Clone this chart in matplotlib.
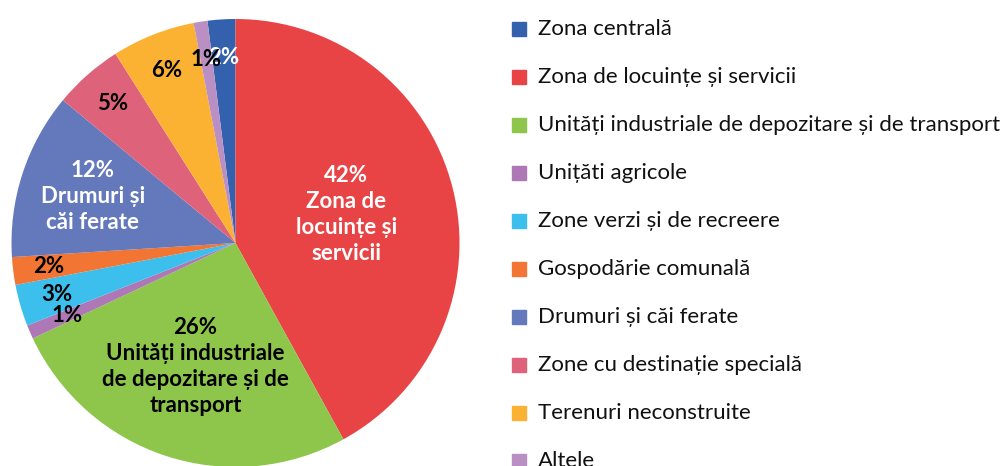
import matplotlib.pyplot as plt
from matplotlib.patches import Rectangle
import numpy as np

plt.rcParams['font.family'] = ['Lato', 'DejaVu Sans']

# data, in legend order
names = ["Zona centrală", "Zona de locuințe și servicii",
         "Unități industriale de depozitare și de transport", "Unițăti agricole",
         "Zone verzi și de recreere", "Gospodărie comunală", "Drumuri și căi ferate",
         "Zone cu destinație specială", "Terenuri neconstruite", "Altele"]
values = [2, 42, 26, 1, 3, 2, 12, 5, 6, 1]
# names shown inside the big slices
inner_names = {1: "Zona de\nlocuințe și\nservicii",
               2: "Unități industriale\nde depozitare și de\ntransport",
               6: "Drumuri și\ncăi ferate"}

colors = ["#3461AD", "#E84446", "#8DC64B", "#AD78B5", "#3DBFEE",
          "#F27534", "#6478BC", "#DE637A", "#FBB233", "#BA8FC4"]
text_colors = ["white", "white", "black", "black", "black",
               "black", "white", "black", "black", "black"]
label_dist = [0.83, 0.51, 0.58, 0.82, 0.83, 0.84, 0.67, 0.83, 0.83, 0.83]

W, H = 1000, 466
fig = plt.figure(figsize=(W / 100, H / 100), dpi=100)

cx, cy, r = 235.5, H - 243, 224
ax = fig.add_axes([(cx - r) / W, (cy - r) / H, 2 * r / W, 2 * r / H])

start = 90 + values[0] / sum(values) * 360
wedges, _ = ax.pie(values, colors=colors, startangle=start, counterclock=False,
                   radius=1, wedgeprops=dict(linewidth=0))
ax.set_xlim(-1, 1)
ax.set_ylim(-1, 1)
ax.set_aspect('equal')
ax.axis('off')

for i, w in enumerate(wedges):
    ang = np.deg2rad((w.theta1 + w.theta2) / 2)
    d = label_dist[i]
    x, y = d * np.cos(ang), d * np.sin(ang)
    txt = str(values[i]) + "%"
    if i in inner_names:
        txt += "\n" + inner_names[i]
    ax.text(x, y, txt, ha='center', va='center', fontsize=16, fontweight='bold',
            color=text_colors[i], linespacing=1.3)

# legend drawn by hand so rows match the reference spacing
for i, name in enumerate(names):
    yc = H - (29 + 48 * i)
    fig.patches.append(Rectangle((512 / W, (yc - 7) / H), 14 / W, 14 / H,
                                 transform=fig.transFigure, color=colors[i]))
    fig.text(538 / W, yc / H, name, ha='left', va='center', fontsize=16,
             color='#111111')

plt.savefig('out.png', dpi=100)
